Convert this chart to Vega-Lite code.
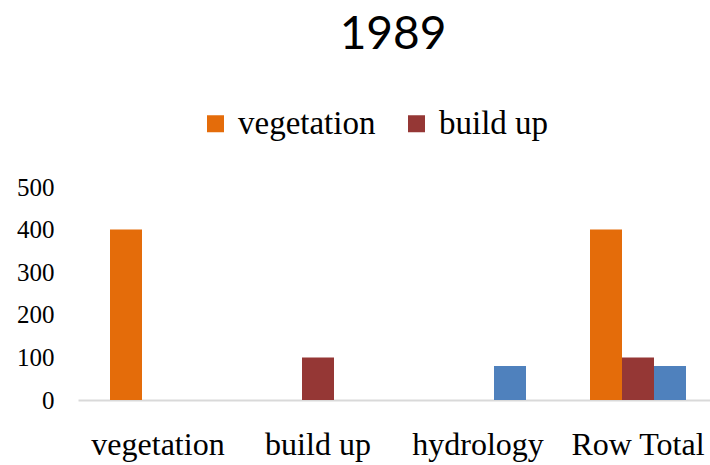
{
  "$schema": "https://vega.github.io/schema/vega-lite/v6.json",
  "autosize": {"type": "none"},
  "width": 640,
  "height": 213,
  "padding": {"left": 78, "top": 187, "right": 0, "bottom": 65},
  "background": "white",
  "view": {"stroke": null},
  "title": {"text": "1989", "font": "Lato", "fontSize": 46, "fontWeight": "normal", "color": "#000000", "anchor": "middle", "frame": "group", "offset": 48, "dx": -5},
  "data": {"values": [
    {"category": "vegetation", "type": "vegetation", "value": 400},
    {"category": "build up", "type": "build up", "value": 100},
    {"category": "hydrology", "type": "hydrology", "value": 80},
    {"category": "Row Total", "type": "vegetation", "value": 400},
    {"category": "Row Total", "type": "build up", "value": 100},
    {"category": "Row Total", "type": "hydrology", "value": 80}
  ]},
  "mark": {"type": "bar"},
  "encoding": {
    "x": {"field": "category", "type": "nominal", "sort": ["vegetation", "build up", "hydrology", "Row Total"],
      "scale": {"paddingInner": 0.4, "paddingOuter": 0.2},
      "axis": {"title": null, "labelAngle": 0, "labelFont": "Liberation Serif", "labelFontSize": 32, "labelColor": "#000000", "labelPadding": 29, "ticks": false, "domainColor": "#d9d9d9", "domainWidth": 2}},
    "xOffset": {"field": "type", "type": "nominal", "scale": {"domain": ["vegetation", "build up", "hydrology"], "paddingInner": 0, "paddingOuter": 0}},
    "y": {"field": "value", "type": "quantitative", "scale": {"domain": [0, 500]},
      "axis": {"title": null, "values": [0, 100, 200, 300, 400, 500], "grid": false, "domain": false, "ticks": false, "labelFont": "Liberation Serif", "labelFontSize": 25, "labelColor": "#000000", "labelPadding": 24}},
    "color": {"field": "type", "type": "nominal",
      "scale": {"domain": ["vegetation", "build up", "hydrology"], "range": ["#E46C0A", "#953735", "#4F81BD"]},
      "legend": {"title": null, "values": ["vegetation", "build up"], "orient": "none", "legendX": 121, "legendY": -80, "direction": "horizontal", "symbolType": "square", "symbolSize": 289, "symbolStrokeWidth": 0, "labelFont": "Liberation Serif", "labelFontSize": 33, "labelColor": "#000000", "labelOffset": 6, "columnPadding": 24, "labelLimit": 300, "labelExpr": "datum.label == 'build up' ? '\u00a0\u00a0build up' : datum.label"}}
  }
}
